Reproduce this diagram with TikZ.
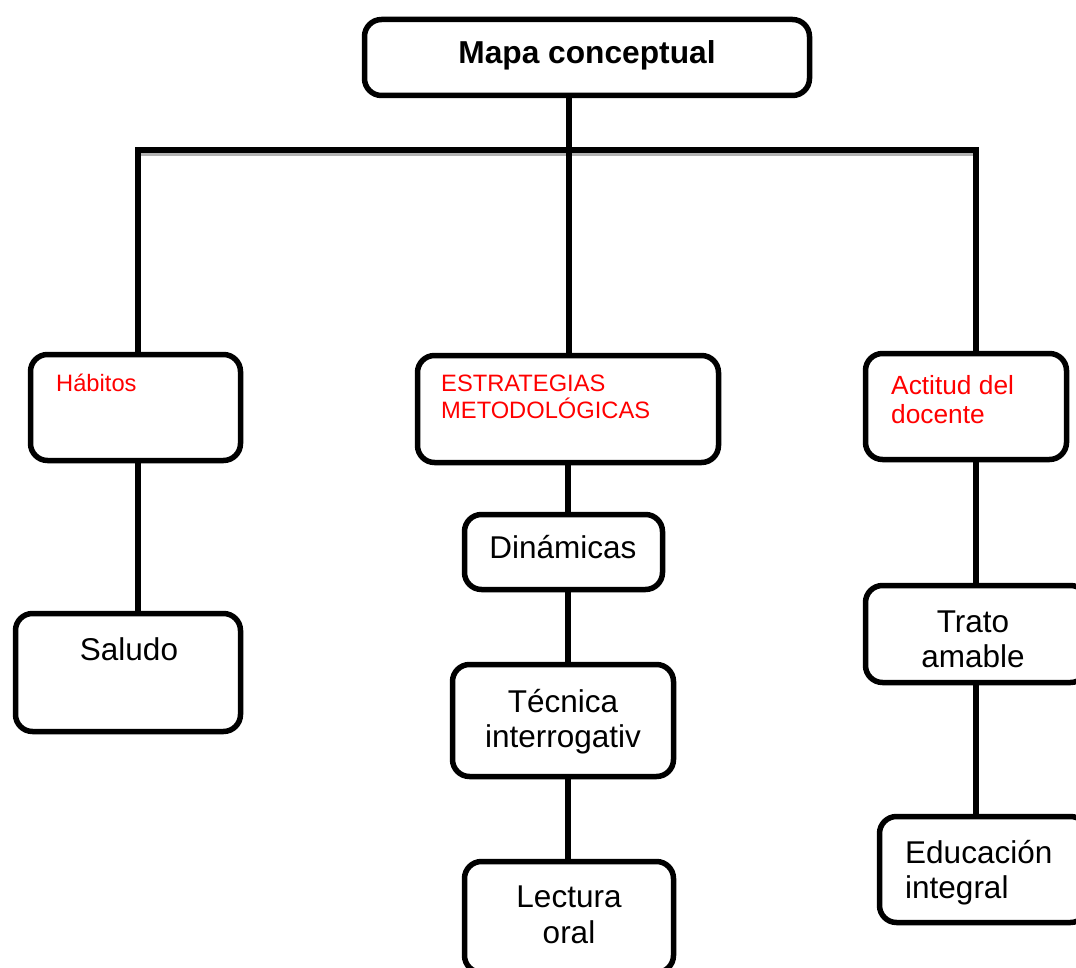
\documentclass[tikz,border=0pt]{standalone}
\usepackage{fontspec}
\setmainfont{Liberation Sans}
\begin{document}
\begin{tikzpicture}[x=1pt,y=-1pt,
  box/.style={draw=black, line width=5.5pt, rounded corners=17pt, fill=white, inner sep=0pt},
  conn/.style={line width=5.5pt, line join=miter},
  blk/.style={font=\fontsize{31.5}{37.5}\selectfont, text=black, inner sep=0pt},
  redtxt/.style={text=red, inner sep=0pt},
  ttl/.style={font=\fontsize{31.7}{38}\selectfont\bfseries, inner sep=0pt}]
\useasboundingbox (0,0) rectangle (1076,968);
\clip (0,0) rectangle (1076,968);
% coordinates for connector columns
\coordinate (barL) at (138,150);
\coordinate (barR) at (976,150);
\coordinate (colM) at (569,150);
\coordinate (colS) at (568,600);
% boxes
\node[box, minimum width=445pt, minimum height=76pt] (top) at (587,57.5) {};
\node[box, minimum width=210pt, minimum height=106pt] (hab) at (135.5,407.5) {};
\node[box, minimum width=301pt, minimum height=107pt] (est) at (568,409) {};
\node[box, minimum width=201pt, minimum height=106pt] (act) at (966,406.5) {};
\node[box, minimum width=225pt, minimum height=118pt] (sal) at (128,672.5) {};
\node[box, minimum width=198pt, minimum height=75pt] (din) at (563.5,552) {};
\node[box, minimum width=221pt, minimum height=112pt] (tec) at (563,720.5) {};
\node[box, minimum width=209pt, minimum height=111pt] (lec) at (569,917) {};
\node[box, minimum width=222pt, minimum height=97pt] (tra) at (976.5,634) {};
\node[box, minimum width=208pt, minimum height=106pt] (edu) at (983.5,869.5) {};
% connectors
\draw[gray!60, line width=3pt] ([yshift=-5pt]barL) -- ([yshift=-5pt,xshift=1pt]barR);
\draw[conn] (barL |- hab.north) -- (barL) -- (barR) -- (barR |- act.north);
\draw[conn] (colM |- top.south) -- (colM |- est.north);
\draw[conn] (hab.south -| barL) -- (sal.north -| barL);
\draw[conn] (est.south -| colS) -- (din.north -| colS);
\draw[conn] (din.south -| colS) -- (tec.north -| colS);
\draw[conn] (tec.south -| colS) -- (lec.north -| colS);
\draw[conn] (act.south -| barR) -- (tra.north -| barR);
\draw[conn] (tra.south -| barR) -- (edu.north -| barR);
% texts
\node[ttl, anchor=base] (tTop) at (587,64) {Mapa conceptual};
\node[redtxt, font=\fontsize{23.7}{27}\selectfont, anchor=base west] (tHab) at (56,391) {Hábitos};
\node[redtxt, font=\fontsize{23.7}{27}\selectfont, anchor=base west] (tEst1) at (441,391) {ESTRATEGIAS};
\node[redtxt, font=\fontsize{23.7}{27}\selectfont, anchor=base west] (tEst2) at (441,418) {METODOLÓGICAS};
\node[redtxt, font=\fontsize{26.3}{30}\selectfont, anchor=base west] (tAct1) at (891,394) {Actitud del};
\node[redtxt, font=\fontsize{26.3}{30}\selectfont, anchor=base west] (tAct2) at (891,423) {docente};
\node[blk, anchor=base] (tSal) at (129,660) {Saludo};
\node[blk, anchor=base] (tDin) at (563,558) {Dinámicas};
\node[blk, anchor=base] (tTec1) at (563,712) {Técnica};
\node[blk, anchor=base] (tTec2) at (563,747) {interrogativ};
\node[blk, anchor=base] (tLec1) at (569,907) {Lectura};
\node[blk, anchor=base] (tLec2) at (569,943) {oral};
\node[blk, anchor=base] (tTra1) at (973,632) {Trato};
\node[blk, anchor=base] (tTra2) at (973,667) {amable};
\node[blk, anchor=base west] (tEdu1) at (905,863) {Educación};
\node[blk, anchor=base west] (tEdu2) at (905,898) {integral};
\end{tikzpicture}
\end{document}
